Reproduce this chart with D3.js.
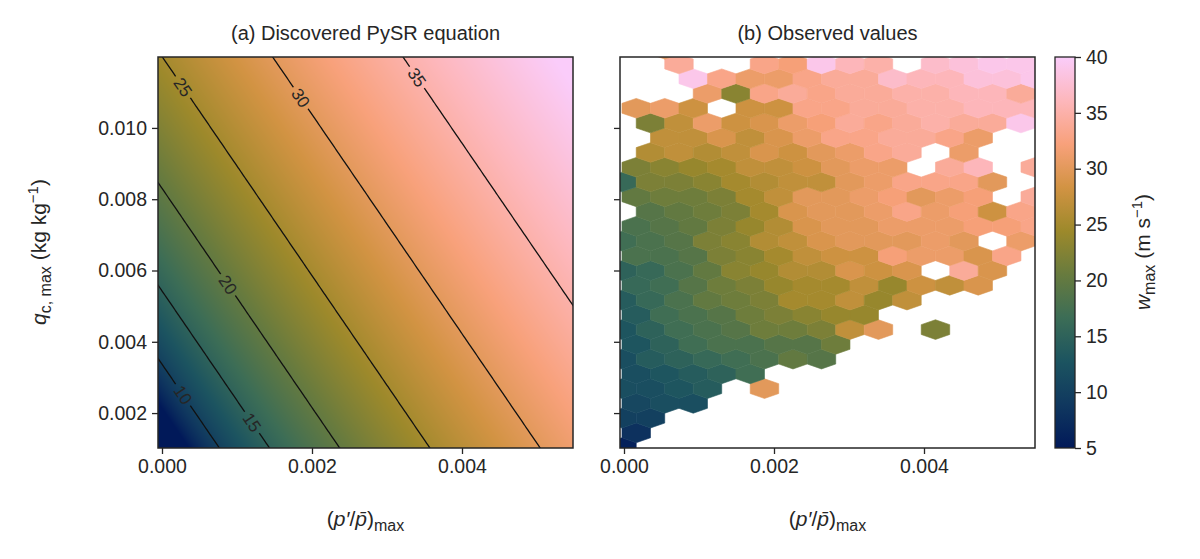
<!DOCTYPE html>
<html><head><meta charset="utf-8">
<script src="https://cdn.jsdelivr.net/npm/d3@7"></script>
<style>body{margin:0;background:#fff}text{font-family:"Liberation Sans",Arial,sans-serif;fill:#262626}</style>
</head><body><svg id="c" width="1200" height="559"></svg>
<script>
// ---- data ----
const xTicks = [0, 0.002, 0.004];
const yTicks = [0.002, 0.004, 0.006, 0.008, 0.010];
const cbTicks = [5, 10, 15, 20, 25, 30, 35, 40];
const contourLevels = [10, 15, 20, 25, 30, 35];
const labelP = [0.00028, 0.0012, 0.00088, 0.00028, 0.00185, 0.0034]; // p where each contour label sits
// fitted equation: w^2 = c0 + a*p + b*q
const eqC0 = -105, eqA = 187000, eqB = 60800;
const batlow = ["#011959","#10385f","#1c5460","#3c6d56","#687b3e","#9d892b","#d29343","#f8a17b","#fdb7bc","#faccfa"];
// hexbin observed values, rows bottom (0) to top; 0 = empty
const hexRows = [
 [6],
 [8],
 [10,10],
 [11,12,12],
 [12,12,13,14,0,30],
 [12,13,14,15,17],
 [12,14,15,16,17,18,20,19],
 [13,15,17,18,18,19,19,21],
 [13,15,17,18,19,21,21,22,27,30,0,22],
 [14,17,18,19,21,22,23,24,24],
 [14,16,18,20,21,22,25,25,27,24,27],
 [16,17,19,21,22,24,25,25,27,24,28,27,29],
 [15,16,18,20,23,24,26,26,29,28,29,0,34,29],
 [18,18,19,22,23,25,27,28,28,32,31,31,29,33],
 [17,18,19,22,23,26,27,29,30,30,30,31,30,0,31],
 [18,19,20,22,24,26,29,30,30,31,31,31,32,32,33],
 [0,19,20,21,22,25,29,30,30,31,33,31,32,28,33],
 [20,21,21,22,25,27,30,30,31,32,30,31,32,0,34],
 [16,22,22,23,25,26,27,27,30,31,33,33,33,30,0],
 [22,23,24,25,27,27,28,30,31,31,0,34,36,0,34],
 [0,26,27,26,27,29,28,30,31,33,34,0,31,0,0],
 [0,27,27,29,27,29,31,33,33,34,34,33,31,0,0],
 [0,22,27,31,28,29,31,32,34,33,34,35,34,34,39],
 [30,31,28,0,28,28,33,33,34,34,35,35,36,36,36],
 [0,0,0,31,23,33,34,33,34,34,35,35,36,36,34],
 [0,0,39,33,31,31,33,34,34,37,36,36,38,38,39],
 [0,0,34,0,0,33,32,39,36,35,0,37,38,39,39],
 [0,30]
];
const hexDp = 0.00038, hexDq = 0.000414, hexP0 = -0.000027, hexQ0 = 0.00103;

// ---- setup ----
const svg = d3.select("#c");
const H = {top:57, bottom:448};
const panels = [{x0:158,x1:573},{x0:620,x1:1035}];
const xDom = [-0.0000533, 0.00548], yDom = [0.00102, 0.01199];
const yS = d3.scaleLinear().domain(yDom).range([H.bottom, H.top]);
const color = d3.scaleLinear().domain(d3.range(10).map(i=>5+i*35/9)).range(batlow).clamp(true);
const wEq = (p,q)=>Math.sqrt(Math.max(25, eqC0+eqA*p+eqB*q));
const FS = 19.5;

svg.append("defs");
panels.forEach((pn,i)=>{
  const xS = d3.scaleLinear().domain(xDom).range([pn.x0,pn.x1]);
  const W = pn.x1-pn.x0, Hh = H.bottom-H.top;
  svg.select("defs").append("clipPath").attr("id","clip"+i).append("rect").attr("x",pn.x0).attr("y",H.top).attr("width",W).attr("height",Hh);
  const g = svg.append("g").attr("clip-path",`url(#clip${i})`);
  if(i===0){
    const cv = document.createElement("canvas"); cv.width=W; cv.height=Hh;
    const ctx = cv.getContext("2d"); const img = ctx.createImageData(W,Hh);
    for(let y=0;y<Hh;y++)for(let x=0;x<W;x++){
      const c = d3.rgb(color(wEq(xS.invert(pn.x0+x+0.5), yS.invert(H.top+y+0.5))));
      const k=(y*W+x)*4; img.data[k]=c.r; img.data[k+1]=c.g; img.data[k+2]=c.b; img.data[k+3]=255;
    }
    ctx.putImageData(img,0,0);
    g.append("image").attr("x",pn.x0).attr("y",H.top).attr("width",W).attr("height",Hh).attr("href",cv.toDataURL());
    const n=120, m=120, vals=[];
    for(let j=0;j<m;j++)for(let k=0;k<n;k++){
      vals.push(wEq(xDom[0]+(xDom[1]-xDom[0])*k/(n-1), yDom[1]-(yDom[1]-yDom[0])*j/(m-1)));
    }
    const cs = d3.contours().size([n,m]).thresholds(contourLevels)(vals);
    const gx = d3.scaleLinear().domain([0,n-1]).range([pn.x0,pn.x1]);
    const gy = d3.scaleLinear().domain([0,m-1]).range([H.top,H.bottom]);
    const mask = svg.select("defs").append("mask").attr("id","lblmask");
    mask.append("rect").attr("x",0).attr("y",0).attr("width",1200).attr("height",559).attr("fill","#fff");
    const lines = g.append("g").attr("mask","url(#lblmask)");
    cs.forEach(c=>{
      lines.append("path").attr("d",d3.geoPath(d3.geoTransform({point(x,y){this.stream.point(gx(x-0.5),gy(y-0.5));}}))(c))
        .attr("fill","none").attr("stroke","#111").attr("stroke-width",1.3);
    });
    contourLevels.forEach((lv,li)=>{
      const p = labelP[li];
      const q = (lv*lv - eqC0 - eqA*p)/eqB;
      const px = xS(p), py = yS(q);
      const dx = xS(p+0.0001)-xS(p), dy = yS(q-eqA*0.0001/eqB)-yS(q);
      const ang = Math.atan2(dy,dx)*180/Math.PI;
      mask.append("rect").attr("x",-13).attr("y",-9).attr("width",26).attr("height",18).attr("fill","#000")
        .attr("transform",`translate(${px},${py}) rotate(${ang})`);
      g.append("text").attr("transform",`translate(${px},${py}) rotate(${ang})`).attr("text-anchor","middle")
        .attr("dy","0.35em").attr("font-size",17).text(lv);
    });
  } else {
    const hw = xS(hexDp)-xS(0), rh = yS(0)-yS(hexDq);
    const R = rh*4/3/2;
    hexRows.forEach((row,r)=>{
      row.forEach((v,k)=>{
        if(!v) return;
        const p = hexP0 + (k + (r%2? 0.5:0))*hexDp, q = hexQ0 + r*hexDq;
        const cx = xS(p), cy = yS(q);
        const pts = [[0,-R],[hw/2,-R/2],[hw/2,R/2],[0,R],[-hw/2,R/2],[-hw/2,-R/2]].map(d=>[cx+d[0],cy+d[1]]);
        g.append("polygon").attr("points",pts.map(d=>d.join(",")).join(" ")).attr("fill",color(v)).attr("stroke",color(v)).attr("stroke-width",0.6);
      });
    });
  }
  svg.append("rect").attr("x",pn.x0).attr("y",H.top).attr("width",W).attr("height",Hh).attr("fill","none").attr("stroke","#262626").attr("stroke-width",1.5);
  const ax = svg.append("g").attr("transform",`translate(0,${H.bottom})`)
    .call(d3.axisBottom(xS).tickValues(xTicks).tickFormat(d3.format(".3f")).tickSize(6).tickPadding(5));
  const ay = svg.append("g").attr("transform",`translate(${pn.x0},0)`)
    .call(d3.axisLeft(yS).tickValues(yTicks).tickFormat(i===0?d3.format(".3f"):()=>"").tickSize(6).tickPadding(5));
  [ax,ay].forEach(a=>{a.select(".domain").remove();a.selectAll("line").attr("stroke","#262626").attr("stroke-width",1.3);
    a.selectAll("text").attr("font-size",FS).attr("fill","#262626").style("font-family","Liberation Sans, Arial, sans-serif");});
  svg.append("text").attr("x",(pn.x0+pn.x1)/2).attr("y",40).attr("text-anchor","middle").attr("font-size",20)
    .text(i===0?"(a) Discovered PySR equation":"(b) Observed values");
  const xl = svg.append("text").attr("x",(pn.x0+pn.x1)/2).attr("y",526).attr("text-anchor","middle").attr("font-size",21);
  xl.append("tspan").text("(");
  xl.append("tspan").attr("font-style","italic").text("p′");
  xl.append("tspan").text("/");
  xl.append("tspan").attr("font-style","italic").text("p̄");
  xl.append("tspan").text(")");
  xl.append("tspan").attr("font-size",16).attr("dy",5).text("max");
});
const yl = svg.append("text").attr("transform","translate(46,252) rotate(-90)").attr("text-anchor","middle").attr("font-size",21);
yl.append("tspan").attr("font-style","italic").text("q");
yl.append("tspan").attr("font-size",16).attr("dy",5).text("c, max");
yl.append("tspan").attr("dy",-5).text(" (kg kg");
yl.append("tspan").attr("font-size",15).attr("dy",-8).text("−1");
yl.append("tspan").attr("dy",8).text(")");
const cb = {x:1055,w:20};
const cS = d3.scaleLinear().domain([5,40]).range([H.bottom,H.top]);
const grad = svg.select("defs").append("linearGradient").attr("id","cbg").attr("x1",0).attr("y1",1).attr("x2",0).attr("y2",0);
batlow.forEach((c,i)=>grad.append("stop").attr("offset",i/9).attr("stop-color",c));
svg.append("rect").attr("x",cb.x).attr("y",H.top).attr("width",cb.w).attr("height",H.bottom-H.top).attr("fill","url(#cbg)").attr("stroke","#262626").attr("stroke-width",1.3);
const ac = svg.append("g").attr("transform",`translate(${cb.x+cb.w},0)`).call(d3.axisRight(cS).tickValues(cbTicks).tickSize(6).tickPadding(5));
ac.select(".domain").remove(); ac.selectAll("line").attr("stroke","#262626").attr("stroke-width",1.3);
ac.selectAll("text").attr("font-size",FS).attr("fill","#262626").style("font-family","Liberation Sans, Arial, sans-serif");
const cl = svg.append("text").attr("transform","translate(1150,252) rotate(-90)").attr("text-anchor","middle").attr("font-size",21);
cl.append("tspan").attr("font-style","italic").text("w");
cl.append("tspan").attr("font-size",16).attr("dy",5).text("max");
cl.append("tspan").attr("dy",-5).text(" (m s");
cl.append("tspan").attr("font-size",15).attr("dy",-8).text("−1");
cl.append("tspan").attr("dy",8).text(")");
</script></body></html>
